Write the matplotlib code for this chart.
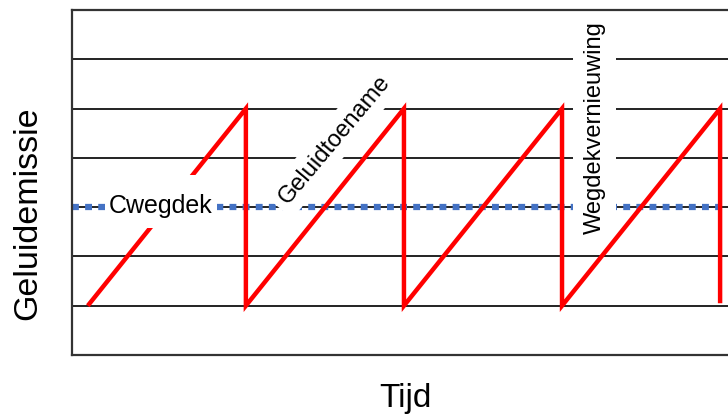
import matplotlib.pyplot as plt
from matplotlib.patches import Rectangle

plt.rcParams['font.family'] = ['Liberation Sans', 'DejaVu Sans']

# zaagtand: geluidemissie over de tijd
tijd = [0.10, 1.10, 1.10, 2.10, 2.10, 3.10, 3.10, 4.10, 4.10]
emissie = [1.0, 5.0, 1.0, 5.0, 1.0, 5.0, 1.0, 5.0, 1.05]

# horizontale hulplijnen en het niveau van het wegdek
niveaus = [1, 2, 3, 4, 5, 6]
c_wegdek = 3

fig = plt.figure(figsize=(7.28, 4.18), dpi=100)
ax = fig.add_axes([72 / 728, 63 / 418, 1 - 72 / 728, 345 / 418])
ax.set_xlim(0, 4.15)
ax.set_ylim(0, 7)

for n in niveaus:
    ax.axhline(n, color='#111111', lw=1.3, zorder=1)

ax.axhline(c_wegdek, color='#4472C4', lw=4.5, linestyle=(0, (1.1, 1.0)),
           dash_capstyle='butt', zorder=2)

ax.plot(tijd, emissie, color='#FF0000', lw=3.2, solid_joinstyle='miter',
        solid_capstyle='butt', zorder=3)

# Cwegdek label met een witte, hoge achtergrond
ax.add_patch(Rectangle((0.21, 2.58), 0.71, 1.07, fc='white', ec='none', zorder=4))
ax.text(0.56, 3.03, 'Cwegdek', fontsize=18, ha='center', va='center', zorder=5)

# schuin label langs de stijgende lijn
ax.text(1.66, 4.36, 'Geluidtoename', fontsize=17, rotation=50, ha='center',
        va='center', rotation_mode='anchor', zorder=5,
        bbox=dict(boxstyle='square,pad=0.3', fc='white', ec='none'))

# verticaal label bij de vernieuwing
ax.add_patch(Rectangle((3.17, 2.45), 0.27, 4.45, fc='white', ec='none', zorder=4))
ax.text(3.31, 4.62, 'Wegdekvernieuwing', fontsize=17, rotation=90, ha='center',
        va='center', zorder=5)

ax.set_xticks([])
ax.set_yticks([])
for s in ['left', 'top', 'bottom']:
    ax.spines[s].set_color('#333333')
    ax.spines[s].set_linewidth(1.6)
    ax.spines[s].set_zorder(6)
ax.spines['right'].set_visible(False)

fig.text(28 / 728, 1 - 213 / 418, 'Geluidemissie', fontsize=24.5, rotation=90,
         ha='center', va='center')
fig.text(405 / 728, 1 - 398 / 418, 'Tijd', fontsize=24, ha='center', va='center')

fig.savefig('out.png', dpi=100)
